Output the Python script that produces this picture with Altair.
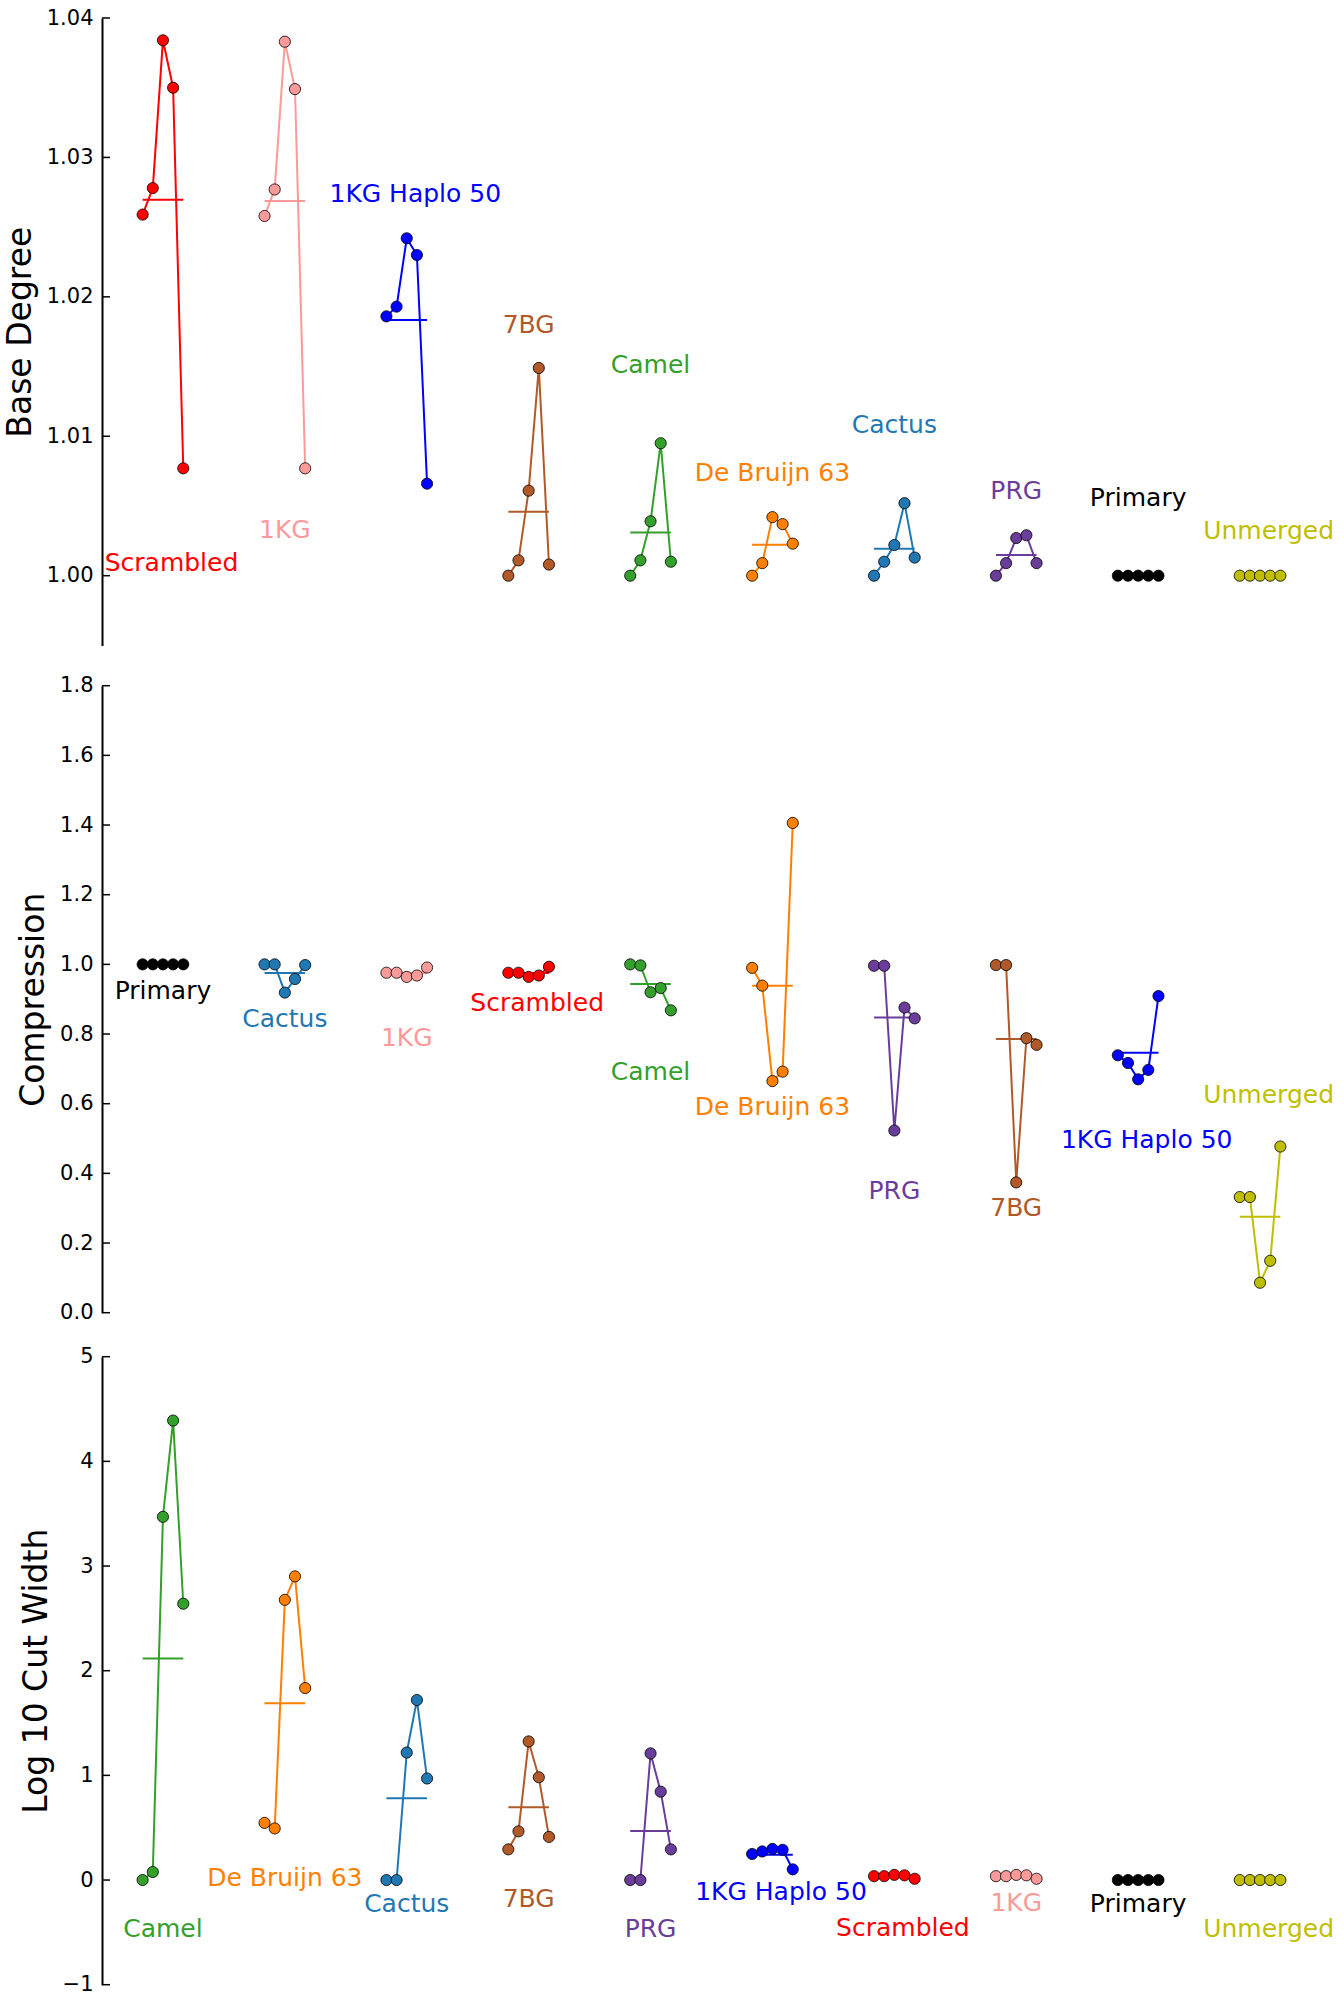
import altair as alt
import pandas as pd

# ---------------- colours per method ----------------
NAMES = ["Scrambled", "1KG", "1KG Haplo 50", "7BG", "Camel", "De Bruijn 63",
         "Cactus", "PRG", "Primary", "Unmerged"]
COLORS = ["#ff0000", "#fb9a99", "#0000ff", "#b15928", "#33a02c", "#ff7f00",
          "#1f78b4", "#6a3d9a", "#000000", "#bfbf00"]
# small horizontal nudge of some annotation labels (in group units)
LABEL_DX = {"Scrambled": 0.07, "1KG Haplo 50": 0.07, "Unmerged": 0.07}

# ---------------- Panel 1: Base Degree ----------------
BD_ORDER = ["Scrambled", "1KG", "1KG Haplo 50", "7BG", "Camel", "De Bruijn 63",
            "Cactus", "PRG", "Primary", "Unmerged"]
BD_SCRAMBLED = [1.0259, 1.0278, 1.0384, 1.0350, 1.0077]
BD_1KG = [1.0258, 1.0277, 1.0383, 1.0349, 1.0077]
BD_HAPLO = [1.0186, 1.0193, 1.0242, 1.0230, 1.0066]
BD_7BG = [1.0000, 1.0011, 1.0061, 1.0149, 1.0008]
BD_CAMEL = [1.0000, 1.0011, 1.0039, 1.0095, 1.0010]
BD_DEBRUIJN = [1.0000, 1.0009, 1.0042, 1.0037, 1.0023]
BD_CACTUS = [1.0000, 1.0010, 1.0022, 1.0052, 1.0013]
BD_PRG = [1.0000, 1.0009, 1.0027, 1.0029, 1.0009]
BD_PRIMARY = [1.0, 1.0, 1.0, 1.0, 1.0]
BD_UNMERGED = [1.0, 1.0, 1.0, 1.0, 1.0]
BD_SERIES = [BD_SCRAMBLED, BD_1KG, BD_HAPLO, BD_7BG, BD_CAMEL, BD_DEBRUIJN,
             BD_CACTUS, BD_PRG, BD_PRIMARY, BD_UNMERGED]
BD_LABEL_Y = [1.0009, 1.0033, 1.0274, 1.0180, 1.0151, 1.0074, 1.0108, 1.0061, 1.0056, 1.0032]
BD_TICKS = [1.00, 1.01, 1.02, 1.03, 1.04]

# ---------------- Panel 2: Compression ----------------
CO_ORDER = ["Primary", "Cactus", "1KG", "Scrambled", "Camel", "De Bruijn 63",
            "PRG", "7BG", "1KG Haplo 50", "Unmerged"]
CO_PRIMARY = [1.0, 1.0, 1.0, 1.0, 1.0]
CO_CACTUS = [1.0, 1.0, 0.919, 0.958, 0.998]
CO_1KG = [0.976, 0.976, 0.964, 0.968, 0.991]
CO_SCRAMBLED = [0.976, 0.976, 0.964, 0.968, 0.993]
CO_CAMEL = [1.0, 0.997, 0.920, 0.932, 0.868]
CO_DEBRUIJN = [0.990, 0.939, 0.665, 0.692, 1.406]
CO_PRG = [0.996, 0.996, 0.523, 0.876, 0.845]
CO_7BG = [0.998, 0.998, 0.374, 0.788, 0.769]
CO_HAPLO = [0.739, 0.717, 0.670, 0.697, 0.909]
CO_UNMERGED = [0.332, 0.332, 0.086, 0.149, 0.477]
CO_SERIES = [CO_PRIMARY, CO_CACTUS, CO_1KG, CO_SCRAMBLED, CO_CAMEL, CO_DEBRUIJN,
             CO_PRG, CO_7BG, CO_HAPLO, CO_UNMERGED]
CO_LABEL_Y = [0.924, 0.844, 0.789, 0.888, 0.690, 0.591, 0.349, 0.302, 0.496, 0.624]
CO_TICKS = [0.0, 0.2, 0.4, 0.6, 0.8, 1.0, 1.2, 1.4, 1.6, 1.8]

# ---------------- Panel 3: Log 10 Cut Width ----------------
CW_ORDER = ["Camel", "De Bruijn 63", "Cactus", "7BG", "PRG", "1KG Haplo 50",
            "Scrambled", "1KG", "Primary", "Unmerged"]
CW_CAMEL = [0.0, 0.077, 3.47, 4.39, 2.64]
CW_DEBRUIJN = [0.546, 0.493, 2.677, 2.901, 1.834]
CW_CACTUS = [0.0, 0.0, 1.218, 1.720, 0.970]
CW_7BG = [0.293, 0.465, 1.324, 0.982, 0.412]
CW_PRG = [0.0, 0.0, 1.210, 0.844, 0.293]
CW_HAPLO = [0.249, 0.273, 0.297, 0.289, 0.102]
CW_SCRAMBLED = [0.037, 0.037, 0.049, 0.045, 0.012]
CW_1KG = [0.037, 0.037, 0.049, 0.045, 0.012]
CW_PRIMARY = [0.0, 0.0, 0.0, 0.0, 0.0]
CW_UNMERGED = [0.0, 0.0, 0.0, 0.0, 0.0]
CW_SERIES = [CW_CAMEL, CW_DEBRUIJN, CW_CACTUS, CW_7BG, CW_PRG, CW_HAPLO,
             CW_SCRAMBLED, CW_1KG, CW_PRIMARY, CW_UNMERGED]
CW_LABEL_Y = [-0.470, 0.018, -0.226, -0.177, -0.470, -0.117, -0.458, -0.215, -0.226, -0.470]
CW_TICKS = [-1, 0, 1, 2, 3, 4, 5]

FONT = "DejaVu Sans"
PLOT_W = 1219
PLOT_H = 1967

color_scale = alt.Scale(domain=NAMES, range=COLORS)
x_scale = alt.Scale(domain=[-0.5, 9.5], nice=False, zero=False)


def panel(title, order, series, label_y, ticks, domain, rng, fmt):
    rows = []
    mrows = []
    for gi, (name, vals) in enumerate(zip(order, series)):
        for j, v in enumerate(vals):
            rows.append({"name": name, "x": gi + (j - 2) / 12.0, "v": v})
        mrows.append({"name": name, "x": gi - 1 / 6.0, "x2": gi + 1 / 6.0,
                      "v": sum(vals) / len(vals)})
    pts = pd.DataFrame(rows)
    means = pd.DataFrame(mrows)
    labels = pd.DataFrame({"name": order,
                           "x": [i + LABEL_DX.get(n, 0.0) for i, n in enumerate(order)],
                           "v": label_y})
    tick_df = pd.DataFrame({"v": ticks})

    ysc = alt.Scale(domain=domain, range=rng, zero=False, nice=False)
    yax = alt.Axis(title=title, orient="left", values=ticks, format=fmt,
                   ticks=False, tickSize=0, grid=False, domain=True,
                   domainColor="black", domainWidth=2,
                   labelFont=FONT, labelFontSize=21, labelColor="black",
                   labelPadding=9, titleFont=FONT, titleFontSize=33,
                   titleFontWeight="normal", titleColor="black",
                   titlePadding=9)
    y = alt.Y("v:Q", scale=ysc, axis=yax)
    x = alt.X("x:Q", scale=x_scale, axis=None)
    col = alt.Color("name:N", scale=color_scale, legend=None)

    line = alt.Chart(pts).mark_line(strokeWidth=2, strokeJoin="round").encode(
        x=x, y=y, color=col)
    mean = alt.Chart(means).mark_rule(strokeWidth=2).encode(
        x=x, x2="x2:Q", y=y, color=col)
    dots = alt.Chart(pts).mark_circle(size=125, opacity=1, stroke="black",
                                      strokeWidth=0.8).encode(
        x=x, y=y, fill=alt.Fill("name:N", scale=color_scale, legend=None))
    text = alt.Chart(labels).mark_text(font=FONT, fontSize=25, align="center",
                                       baseline="middle").encode(
        x=x, y=y, text="name:N", color=col)
    tick_marks = alt.Chart(tick_df).mark_rule(color="black", strokeWidth=1.5).encode(
        x=alt.value(0), x2=alt.value(8), y=y)
    return alt.layer(line, mean, dots, text, tick_marks)


p1 = panel("Base Degree", BD_ORDER, BD_SERIES, BD_LABEL_Y, BD_TICKS,
           [0.995, 1.04], [627.4, 0], ".2f")
p2 = panel("Compression", CO_ORDER, CO_SERIES, CO_LABEL_Y, CO_TICKS,
           [0.0, 1.8], [1294.7, 667.7], ".1f")
p3 = panel("Log 10 Cut Width", CW_ORDER, CW_SERIES, CW_LABEL_Y, CW_TICKS,
           [-1, 5], [1966.7, 1338.7], "d")

chart = alt.layer(p1, p2, p3).resolve_scale(y="independent").resolve_axis(
    y="independent"
).properties(
    width=PLOT_W, height=PLOT_H,
    autosize=alt.AutoSizeParams(type="none"),
    padding={"left": 102, "top": 18, "right": 23, "bottom": 14},
    background="white",
).configure_view(stroke=None)

chart.save("out.html", embed_options={"renderer": "svg", "actions": False})
